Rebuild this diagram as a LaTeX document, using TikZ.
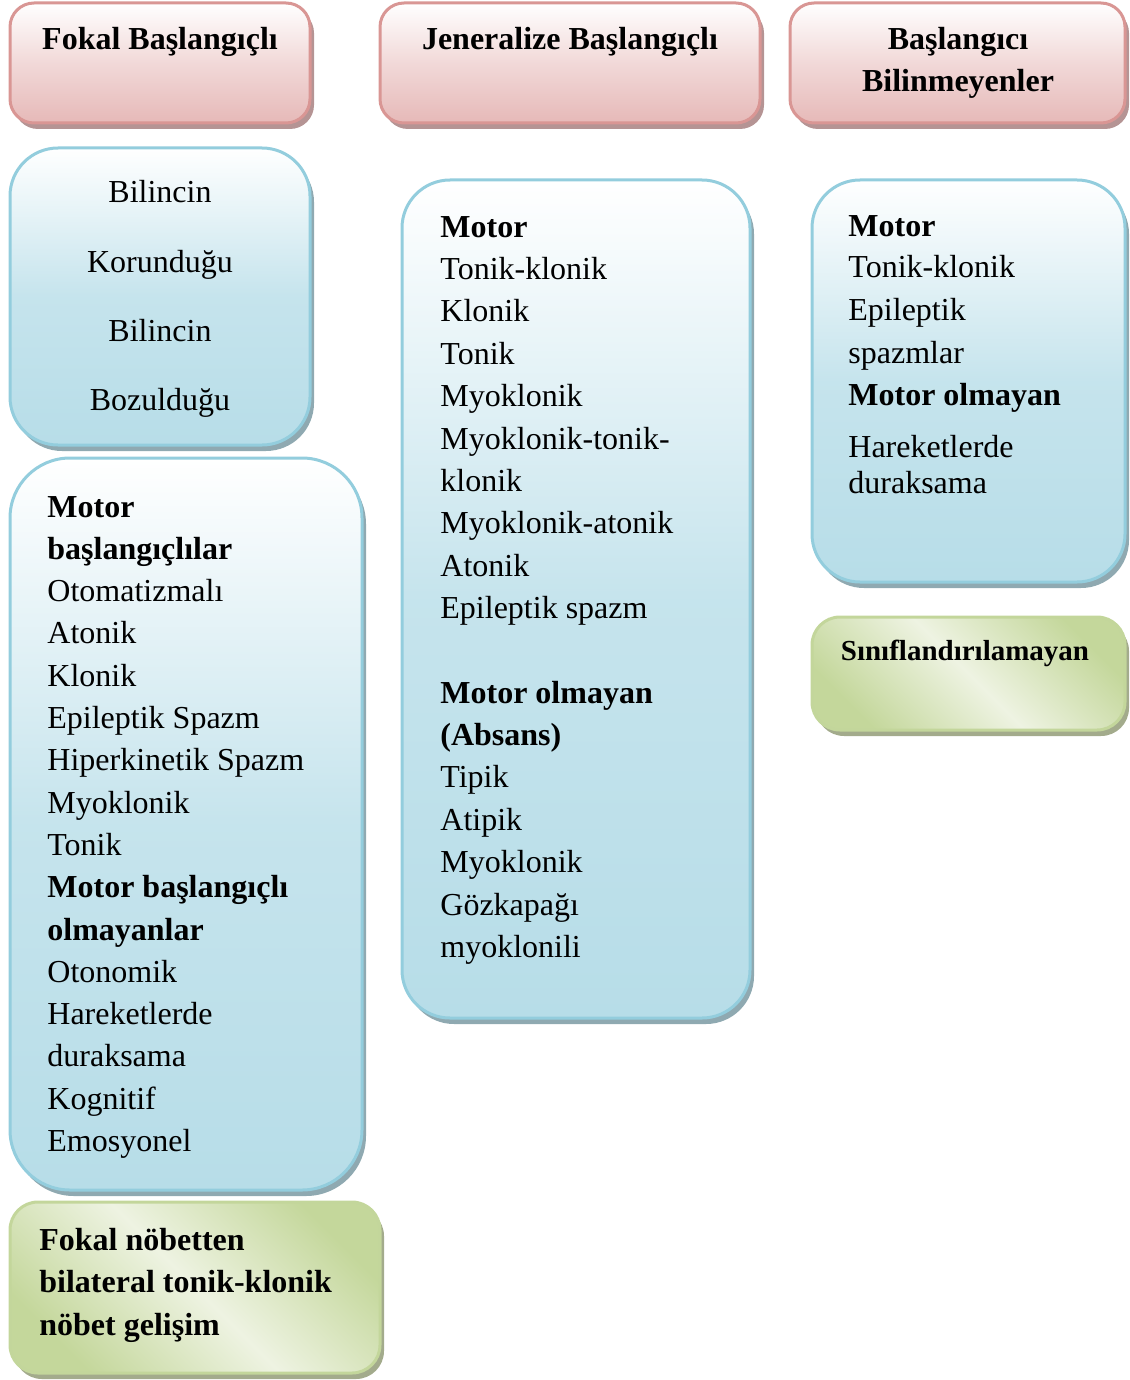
\documentclass[tikz,border=0pt]{standalone}
\usepackage{fontspec}
\setmainfont{Liberation Serif}
\usetikzlibrary{shadows}

\definecolor{pinkline}{HTML}{D99694}
\definecolor{pinkfill}{HTML}{E6B9B8}
\definecolor{pinkshade}{HTML}{B59494}
\definecolor{blueline}{HTML}{93CDDD}
\definecolor{bluefill}{HTML}{B7DDE8}
\definecolor{blueshade}{HTML}{8FA9B1}
\definecolor{greenline}{HTML}{C3D69B}
\definecolor{greenfill}{HTML}{C4D79B}
\definecolor{greenlight}{HTML}{EEF3E2}
\definecolor{greenshade}{HTML}{A3AB8C}

\tikzset{
  pinkbox/.style={draw=pinkline, line width=1.5pt, rounded corners=12pt,
    top color=white, bottom color=pinkfill, middle color=pinkfill!55!white,
    drop shadow={shadow xshift=2pt, shadow yshift=-3pt, fill=pinkshade, opacity=1}},
  bluebox/.style={draw=blueline, line width=1.5pt, rounded corners=24pt,
    top color=white, bottom color=bluefill, middle color=bluefill!80!white,
    drop shadow={shadow xshift=2pt, shadow yshift=-3pt, fill=blueshade, opacity=1}},
  greenbox/.style={draw=greenline, line width=1.5pt, rounded corners=14pt,
    top color=greenfill, bottom color=greenfill, middle color=greenlight, shading angle=-45,
    drop shadow={shadow xshift=2pt, shadow yshift=-3pt, fill=greenshade, opacity=1}},
  hdr/.style={anchor=base, inner sep=0pt, font=\fontsize{16}{21}\selectfont\bfseries},
  item/.style={anchor=base west, inner sep=0pt, font=\fontsize{16}{21}\selectfont},
  mid/.style={anchor=base, inner sep=0pt, font=\fontsize{16}{21}\selectfont}
}

\begin{document}
\begin{tikzpicture}[x=0.5pt, y=-0.5pt]
\useasboundingbox (0,0) rectangle (1129,1380);

%% header boxes
\draw[pinkbox] (10,3) rectangle (310,123);     %% fokal
\draw[pinkbox] (380,3) rectangle (760,123);    %% jeneralize
\draw[pinkbox] (790,3) rectangle (1125,123);   %% bilinmeyen

%% list boxes
\draw[bluebox] (10,148) rectangle (310,445);                       %% bilinc
\draw[bluebox, rounded corners=30pt] (10,458) rectangle (362,1190); %% fokal motor
\draw[bluebox] (402,180) rectangle (750,1018);                     %% jeneralize motor
\draw[bluebox] (812,180) rectangle (1125,582);                     %% bilinmeyen motor

%% green boxes
\draw[greenbox] (10,1202) rectangle (380,1373);  %% bilateral
\draw[greenbox] (812,617) rectangle (1125,730);  %% siniflandirilamayan

%% header labels
\node[hdr] (fokal) at (160,50) {Fokal Başlangıçlı};
\node[hdr] (jen) at (570,50) {Jeneralize Başlangıçlı};
\node[hdr] (bil1) at (958,50) {Başlangıcı};
\node[hdr] (bil2) at (958,92) {Bilinmeyenler};

%% bilinc
\node[mid] (bl1) at (160,203) {Bilincin};
\node[mid] (bl2) at (160,272) {Korunduğu};
\node[mid] (bl3) at (160,341) {Bilincin};
\node[mid] (bl4) at (160,410) {Bozulduğu};

%% fokal motor list
\foreach \txt [count=\i from 0] in {{\textbf{Motor}}, {\textbf{başlangıçlılar}},
    Otomatizmalı, Atonik, Klonik, Epileptik Spazm, Hiperkinetik Spazm,
    Myoklonik, Tonik, {\textbf{Motor başlangıçlı}}, {\textbf{olmayanlar}},
    Otonomik, Hareketlerde, duraksama, Kognitif, Emosyonel}
  \node[item] (foc\i) at (47,{517+42.3*\i}) {\txt};

%% jeneralize list
\foreach \txt [count=\i from 0] in {{\textbf{Motor}}, Tonik-klonik, Klonik,
    Tonik, Myoklonik, Myoklonik-tonik-, klonik, Myoklonik-atonik, Atonik,
    Epileptik spazm}
  \node[item] (gen\i) at (440,{237+42.4*\i}) {\txt};
\foreach \txt [count=\i from 0] in {{\textbf{Motor olmayan}}, {\textbf{(Absans)}},
    Tipik, Atipik, Myoklonik, Gözkapağı, myoklonili}
  \node[item] (abs\i) at (440,{703+42.4*\i}) {\txt};

%% bilinmeyen list
\node[item] (unk1) at (848,236) {\textbf{Motor}};
\node[item] (unk2) at (848,278) {Tonik-klonik};
\node[item] (unk3) at (848,320) {Epileptik};
\node[item] (unk4) at (848,363) {spazmlar};
\node[item] (unk5) at (848,405) {\textbf{Motor olmayan}};
\node[item] (unk6) at (848,457) {Hareketlerde};
\node[item] (unk7) at (848,493) {duraksama};

%% green labels
\foreach \txt [count=\i from 0] in {Fokal nöbetten, bilateral tonik-klonik, nöbet gelişim}
  \node[item, font=\fontsize{16}{21}\selectfont\bfseries] (bt\i) at (39,{1250+42.5*\i}) {\txt};
\node[hdr, font=\fontsize{14.5}{18}\selectfont\bfseries] (sinif) at (965,660) {Sınıflandırılamayan};

\end{tikzpicture}
\end{document}
